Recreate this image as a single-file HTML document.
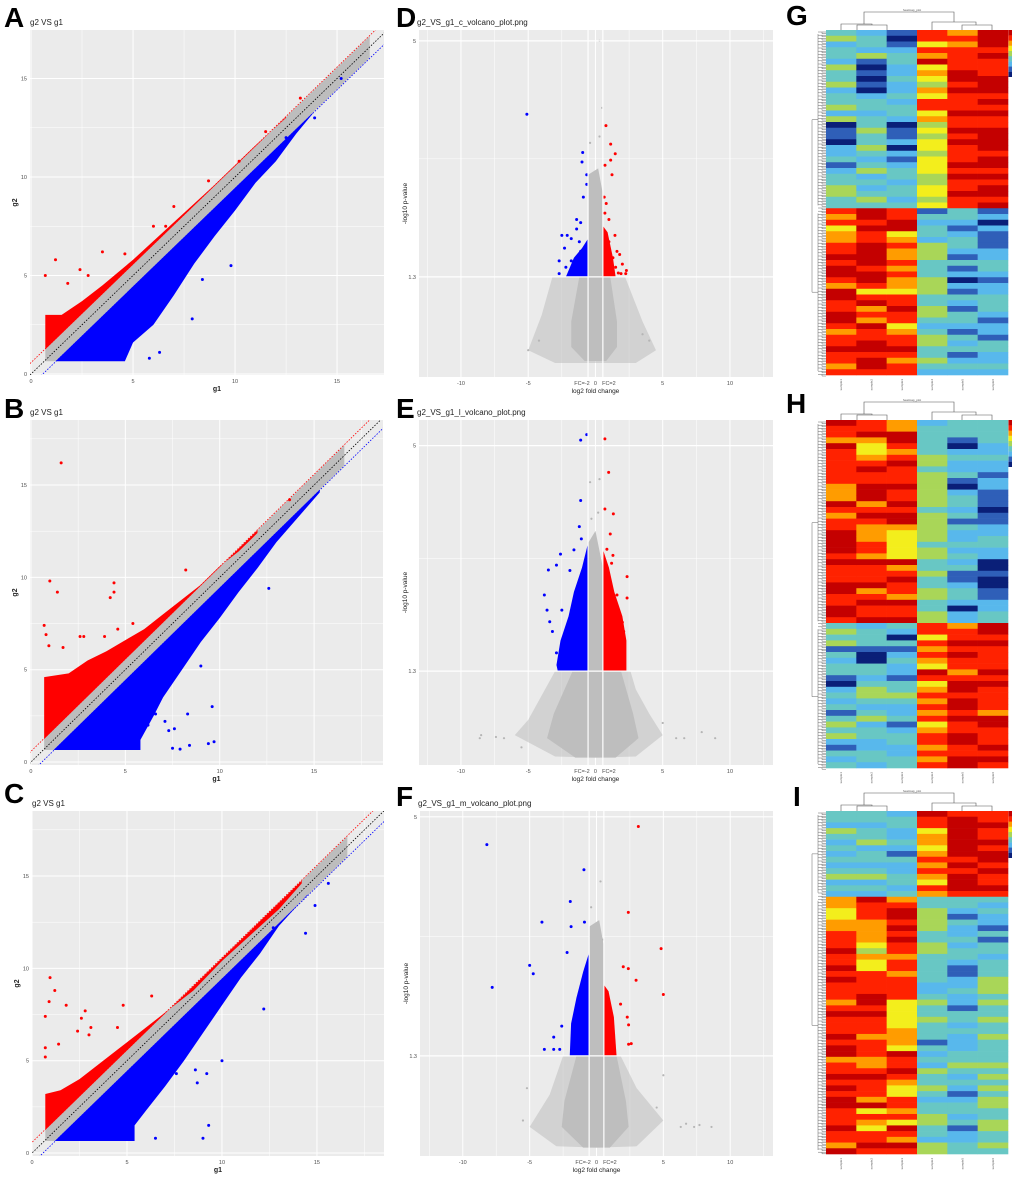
<!DOCTYPE html>
<html><head><meta charset="utf-8"><style>
html,body{margin:0;padding:0;background:#fff;}
svg{display:block;font-family:"Liberation Sans",Arial,sans-serif;}
</style></head><body>
<svg id="fig" width="1020" height="1178" viewBox="0 0 1020 1178"></svg>
<script>
// ===== Scatter data (A,B,C) =====
const scatterTicks = [0, 5, 10, 15];
const tickLabels = ["0", "5", "10", "15"];
const aRedEnvX = [0.7, 1.5, 2.5, 3.5, 5, 7, 9, 11, 12.5];
const aRedEnvY = [3.0, 3.0, 3.7, 4.5, 5.8, 7.7, 9.6, 11.6, 13.0];
const aBlueEnvX = [1.2, 4.6, 5, 6, 7, 8, 9, 10, 11, 12, 13, 13.8];
const aBlueEnvY = [0.65, 0.65, 1.6, 2.5, 4.0, 5.6, 7.0, 8.3, 9.7, 10.8, 12.2, 13.2];
const aRedPts = [[1.2,5.8],[0.7,5.0],[1.8,4.6],[2.4,5.3],[2.8,5.0],[3.5,6.2],[4.6,6.1],[6.0,7.5],[6.6,7.5],[7.0,8.5],[8.7,9.8],[10.2,10.8],[11.5,12.3],[13.2,14.0]];
const aBluePts = [[9.8,5.5],[8.4,4.8],[7.9,2.8],[5.8,0.8],[6.3,1.1],[9.2,8.0],[11.5,10.5],[12.5,12.0],[15.2,15.0],[13.9,13.0]];
const bRedEnvX = [0.7, 2, 3, 4, 5, 6, 7, 8, 9, 10, 11, 12];
const bRedEnvY = [4.6, 4.8, 5.5, 6.0, 6.6, 7.2, 8.0, 8.8, 9.6, 10.6, 11.4, 12.4];
const bBlueEnvX = [1.2, 5.8, 5.8, 6.5, 7, 8, 9, 10, 11, 12, 13, 15.3];
const bBlueEnvY = [0.65, 0.65, 1.2, 2.5, 3.5, 5.0, 6.5, 7.8, 9.2, 10.5, 11.9, 14.6];
const bRedPts = [[1.6,16.2],[1.0,9.8],[1.4,9.2],[4.4,9.7],[4.4,9.2],[4.2,8.9],[0.7,7.4],[0.8,6.9],[0.95,6.3],[1.7,6.2],[2.6,6.8],[2.8,6.8],[3.9,6.8],[4.6,7.2],[5.4,7.5],[8.2,10.4],[13.7,14.2]];
const bBluePts = [[12.6,9.4],[9.0,5.2],[9.6,3.0],[8.3,2.6],[6.6,2.6],[7.1,2.2],[7.3,1.7],[7.6,1.8],[7.5,0.75],[7.9,0.7],[8.4,0.9],[9.4,1.0],[9.7,1.1],[6.2,2.0]];
const cRedEnvX = [0.7, 1.5, 2.5, 3.5, 4.5, 5.5, 7, 8.5, 10, 11.5, 13, 14.2];
const cRedEnvY = [3.2, 3.4, 4.0, 4.8, 5.6, 6.4, 7.6, 8.8, 10.4, 11.8, 13.2, 14.6];
const cBlueEnvX = [1.2, 5.4, 5.4, 6, 7, 8, 9, 10, 11, 12, 13, 14.5];
const cBlueEnvY = [0.65, 0.65, 1.5, 2.3, 3.6, 5.0, 6.5, 8.0, 9.5, 10.8, 12.3, 14.0];
const cRedPts = [[0.95,9.5],[1.2,8.8],[0.9,8.2],[1.8,8.0],[0.7,7.4],[2.8,7.7],[2.6,7.3],[3.1,6.8],[2.4,6.6],[3.0,6.4],[4.8,8.0],[6.3,8.5],[4.5,6.8],[0.7,5.7],[1.4,5.9],[0.7,5.2]];
const cBluePts = [[12.2,7.8],[10.0,5.0],[8.6,4.5],[8.7,3.8],[9.2,4.3],[7.6,4.3],[9.3,1.5],[9.0,0.8],[6.5,0.8],[14.4,11.9],[12.7,12.2],[14.9,13.4],[15.6,14.6]];

// ===== Volcano data (D,E,F) =====
const volXTicks = [-10, -5, -1, 0, 1, 5, 10];
const volXLabels = ["-10", "-5", "FC=-2", "0", "FC=2", "5", "10"];
const volYTicks = [5, 1.3];
const volYLabels = ["5", "1.3"];
const dHalo = [[-3.2,1.3],[-4,0.7],[-5,0.15],[-3,-0.05],[0,-0.05],[3,-0.05],[4.5,0.15],[3.5,0.6],[2.2,1.3]];
const dCore = [[-1.2,1.3],[-0.6,1.3],[-0.55,2.9],[0.2,3.0],[0.55,2.6],[0.6,1.3],[1.1,1.3],[1.6,0.6],[1.6,0.2],[0.8,-0.02],[-0.8,-0.02],[-1.8,0.2],[-1.8,0.6]];
const dRedPoly = [[0.55,1.3],[0.55,2.1],[0.9,2.0],[1.3,1.6],[1.5,1.3]];
const dBluePoly = [[-0.55,1.3],[-0.55,1.9],[-1.0,1.75],[-1.6,1.6],[-2.0,1.4],[-2.2,1.3]];
const dRedPts = [[0.78,3.67],[1.13,3.38],[1.47,3.23],[1.13,3.13],[0.71,3.05],[1.23,2.9],[0.65,2.55],[0.8,2.45],[0.7,2.3],[1.0,2.2],[1.45,1.95],[1.0,1.85],[1.6,1.7],[1.8,1.65],[1.3,1.6],[2.0,1.5],[1.5,1.45],[2.3,1.4],[1.9,1.35],[2.25,1.35],[1.7,1.36]];
const dBluePts = [[-5.1,3.85],[-0.95,3.25],[-1,3.1],[-0.65,2.9],[-0.65,2.75],[-0.9,2.55],[-1.4,2.2],[-1.1,2.15],[-1.4,2.05],[-2.5,1.95],[-2.1,1.95],[-1.8,1.9],[-1.2,1.85],[-1.1,1.7],[-2.3,1.75],[-1.8,1.55],[-2.7,1.55],[-2.2,1.45],[-2.7,1.35]];
const dGrayPts = [[0.3,5.0],[0.5,3.95],[0.3,3.5],[-0.4,3.4],[-5.0,0.15],[4.0,0.3],[3.5,0.4],[-4.2,0.3]];
const eHalo = [[-3,1.3],[-4,0.9],[-5,0.5],[-6,0.25],[-3,-0.1],[0,-0.12],[3,-0.1],[5,0.25],[4,0.6],[3,1.0],[2.6,1.3]];
const eCore = [[-1.7,1.3],[-0.6,1.3],[-0.55,3.4],[0,3.6],[0.55,3.0],[0.6,1.3],[1.9,1.3],[2.8,0.6],[3.2,0.2],[1.5,-0.12],[-1.5,-0.12],[-3.6,0.2],[-3.1,0.6]];
const eRedPoly = [[0.55,1.3],[0.55,3.3],[1.0,3.0],[1.4,2.6],[2.0,2.2],[2.3,1.8],[2.3,1.3]];
const eBluePoly = [[-0.55,1.3],[-0.55,3.4],[-1.0,3.0],[-1.6,2.6],[-2.0,2.2],[-2.6,1.8],[-2.9,1.4],[-2.8,1.3]];
const eRedPts = [[0.7,5.11],[0.98,4.56],[0.7,3.96],[1.33,3.88],[1.1,3.55],[0.85,3.3],[1.3,3.2],[1.2,3.07],[2.35,2.85],[2.35,2.5],[1.6,2.55],[2.0,2.1],[2.1,1.95],[2.1,1.33]];
const eBluePts = [[-1.1,5.09],[-0.65,5.18],[-1.1,4.1],[-1.2,3.67],[-1.05,3.47],[-1.6,3.29],[-2.6,3.22],[-2.9,3.04],[-3.5,2.96],[-3.8,2.55],[-3.6,2.3],[-3.4,2.11],[-2.5,2.3],[-3.2,1.95],[-2.9,1.6],[-2.7,1.33],[-1.9,2.95]];
const eGrayPts = [[-8.6,0.2],[-8.5,0.25],[-7.4,0.22],[-6.8,0.2],[-5.5,0.05],[7.9,0.3],[8.9,0.2],[6.6,0.2],[6.0,0.2],[5,0.45],[-0.4,4.4],[0.3,4.45],[0.2,3.9],[-0.3,3.8]];
const fHalo = [[-2.5,1.3],[-3.5,0.7],[-5,0.2],[-3,-0.1],[0,-0.12],[3,-0.1],[5,0.3],[3,0.8],[1.8,1.3]];
const fCore = [[-1.5,1.3],[-0.6,1.3],[-0.55,3.3],[0.2,3.4],[0.55,3.0],[0.6,1.3],[1.5,1.3],[2.2,0.6],[2.4,0.2],[1.0,-0.12],[-1.0,-0.12],[-2.6,0.2],[-2.4,0.6]];
const fRedPoly = [[0.55,1.3],[0.55,2.4],[0.9,2.3],[1.3,1.9],[1.5,1.3]];
const fBluePoly = [[-0.55,1.3],[-0.55,2.9],[-1.0,2.6],[-1.5,2.2],[-1.9,1.8],[-2.0,1.3]];
const fRedPts = [[3.13,4.85],[2.38,3.52],[4.83,2.96],[2.96,2.47],[5.0,2.25],[2.38,2.65],[2.0,2.68],[2.3,1.9],[2.4,1.78],[2.4,1.48],[2.6,1.49],[1.8,2.1]];
const fBluePts = [[-8.2,4.57],[-7.8,2.36],[-0.94,4.18],[-1.96,3.69],[-4.08,3.37],[-1.9,3.3],[-0.9,3.37],[-5.0,2.7],[-4.73,2.57],[-2.2,2.9],[-3.9,1.4],[-3.2,1.4],[-2.75,1.4],[-3.2,1.59],[-2.6,1.76]];
const fGrayPts = [[6.3,0.2],[6.7,0.25],[7.3,0.2],[7.7,0.23],[8.6,0.2],[5.0,1.0],[4.5,0.5],[-5.5,0.3],[-5.2,0.8],[0.3,4.0],[-0.4,3.6],[0.5,3.1]];

// ===== Heatmap data (G,H,I), digit = colour level 0..8 =====
const gCols = [
 "3423324334233424011022312334433"+"76756677878876887788767787767",
 "2332410101023323343343234232343"+"88787788887887578676877887887",
 "1012332232232332011202123323323"+"77885676676766577877567787677",
 "7757685654657756454554555445545"+"13233244433344433443234433432",
 "6767777887877787787877787877877"+"33212332131202132133213231232",
 "8887877788878787788887887878878"+"12021112233212233321221332232"];
const hCols = [
 "87768777777666876778888787778877887"+"3434132331023231343421323",
 "77865567877888678766677687778678778"+"2333100332344323423322332",
 "66887678777877878865555586787768778"+"3203123221334322312332233",
 "23333344344444434444434433433443344"+"7757676587567676756776767",
 "33310232231023323132232323112332022"+"6778787767887887877887788",
 "33332232212211101122332200100112233"+"8878777787877776887778787"];
const iCols = [
 "332432323234232"+"665566777877878777678777878867787878877787768",
 "332334233234232"+"877766665465577778878777677766787776857657787",
 "233223213223323"+"678878787767767777555556665877876557767587687",
 "877566567676576"+"334444334433333223433433313232433432334433244",
 "788888887878887"+"332132232332112232213323222334323212332312233",
 "778778788787787"+"323221313323334443433433433334343434433443343"];
const heatPalette = ["#0a1f78","#2f5fb8","#58b8ec","#68c7c4","#a9d658","#f3ee1c","#ff9c00","#ff2200","#c40000"];

const svg = document.getElementById('fig');
const NSVG = svg.namespaceURI;
function mk(tag, attrs, parent) {
  const el = document.createElementNS(NSVG, tag);
  for (const k in attrs) el.setAttribute(k, attrs[k]);
  (parent || svg).appendChild(el);
  return el;
}
function lin(d0, d1, r0, r1) { return v => r0 + (v - d0) / (d1 - d0) * (r1 - r0); }
function txt(x, y, s, size, extra, parent) {
  const t = mk('text', Object.assign({x: x, y: y, 'font-size': size, fill: '#222'}, extra || {}), parent);
  t.textContent = s;
  return t;
}

function panelLetter(x, y, s) {
  const t = txt(x, y, s, 28, {'font-weight': 'bold', fill: '#000'});
  
  
}

let clipId = 0;
function makeClip(x0, y0, x1, y1) {
  clipId++;
  const cp = mk('clipPath', {id: 'cp' + clipId});
  mk('rect', {x: x0, y: y0, width: x1 - x0, height: y1 - y0}, cp);
  return 'url(#cp' + clipId + ')';
}

function drawScatter(p) {
  const X = lin(p.xd[0], p.xd[1], p.x0, p.x1), Y = lin(p.yd[0], p.yd[1], p.y1, p.y0);
  const g = mk('g', {'clip-path': makeClip(p.x0, p.y0, p.x1, p.y1)});
  
  
  const bg = mk('rect', {x: p.x0, y: p.y0, width: p.x1 - p.x0, height: p.y1 - p.y0, fill: '#ebebeb'}, g);
  
  
  for (let v = 0; v <= 20; v += 2.5) {
    const major = v % 5 === 0;
    const gl = mk('line', {x1: X(v), x2: X(v), y1: p.y0, y2: p.y1, stroke: '#fff', 'stroke-width': major ? 1 : 0.5}, g);
    
    
    const gh = mk('line', {x1: p.x0, x2: p.x1, y1: Y(v), y2: Y(v), stroke: '#fff', 'stroke-width': major ? 1 : 0.5}, g);
    
    
  }
  const off = 0.55, floor = 0.65;
  const gb = [[0.7, floor], [0.7, 0.7 + off], [16.6, 16.6 + off], [16.6, 16.6 - off], [floor + off, floor]];
  const grayBand = mk('polygon', {points: gb.map(q => X(q[0]) + ',' + Y(q[1])).join(' '), fill: '#bdbdbd'}, g);
  
  
  const rp = p.redX.map((x, i) => [x, p.redY[i]]);
  const rl = p.redX[p.redX.length - 1];
  rp.push([rl, rl + off]); rp.push([p.redX[0], p.redX[0] + off]);
  const red = mk('polygon', {points: rp.map(q => X(q[0]) + ',' + Y(q[1])).join(' '), fill: '#ff0000'}, g);
  
  
  const bl = p.blueX[p.blueX.length - 1];
  const bp = [[floor + off, floor], [bl, bl - off]];
  for (let i = p.blueX.length - 1; i >= 0; i--) bp.push([p.blueX[i], p.blueY[i]]);
  const blue = mk('polygon', {points: bp.map(q => X(q[0]) + ',' + Y(q[1])).join(' '), fill: '#0000ff'}, g);
  
  
  p.redPts.forEach(q => {
    const c = mk('circle', {cx: X(q[0]), cy: Y(q[1]), r: 1.5, fill: '#ff0000'}, g);
    
    
  });
  p.bluePts.forEach(q => {
    const c = mk('circle', {cx: X(q[0]), cy: Y(q[1]), r: 1.5, fill: '#0000ff'}, g);
    
    
  });
  [[0, '#000'], [0.58, '#ff0000'], [-0.58, '#0000ff']].forEach(d => {
    const l = mk('line', {x1: X(-1), y1: Y(-1 + d[0]), x2: X(20), y2: Y(20 + d[0]), stroke: d[1], 'stroke-width': 0.8, 'stroke-dasharray': '1.5,1.5'}, g);
    
    
  });
  scatterTicks.forEach((v, i) => {
    const tx = txt(X(v), p.y1 + 8, tickLabels[i], 5.5, {'text-anchor': 'middle', fill: '#4d4d4d'});
    
    
    const ty = txt(p.x0 - 3, Y(v) + 2, tickLabels[i], 5.5, {'text-anchor': 'end', fill: '#4d4d4d'});
    
    
  });
  const xt = txt((p.x0 + p.x1) / 2 + 10, p.y1 + 16, 'g1', 7, {'text-anchor': 'middle', 'font-weight': 'bold'});
  
  
  const yt = txt(0, 0, 'g2', 7, {'text-anchor': 'middle', 'font-weight': 'bold', transform: 'translate(' + (p.x0 - 13) + ',' + ((p.y0 + p.y1) / 2) + ') rotate(-90)'});
  
  
  const tt = txt(p.x0, p.y0 - 5, 'g2 VS g1', 8);
  
  
}

function drawVolcano(p) {
  const X = lin(p.xd[0], p.xd[1], p.x0, p.x1), Y = lin(p.yd[0], p.yd[1], p.y1, p.y0);
  const g = mk('g', {'clip-path': makeClip(p.x0, p.y0, p.x1, p.y1)});
  
  
  const bg = mk('rect', {x: p.x0, y: p.y0, width: p.x1 - p.x0, height: p.y1 - p.y0, fill: '#ebebeb'}, g);
  
  
  for (let v = -12.5; v <= 12.5; v += 2.5) {
    const major = Math.abs(v % 5) === 0;
    const gl = mk('line', {x1: X(v), x2: X(v), y1: p.y0, y2: p.y1, stroke: '#fff', 'stroke-width': major ? 1 : 0.5}, g);
    
    
  }
  const mid = (volYTicks[0] + volYTicks[1]) / 2;
  const gm = mk('line', {x1: p.x0, x2: p.x1, y1: Y(mid), y2: Y(mid), stroke: '#fff', 'stroke-width': 0.5}, g);
  
  
  const poly = (pts, fill, op, name) => {
    const e = mk('polygon', {points: pts.map(q => X(q[0]) + ',' + Y(q[1])).join(' '), fill: fill, 'fill-opacity': op}, g);
    
    
  };
  poly(p.halo, '#bdbdbd', 0.55, 'nonsignificant-halo');
  poly(p.core, '#bebebe', 1, 'nonsignificant-core');
  poly(p.redPoly, '#ff0000', 1, 'up-regulated-cluster');
  poly(p.bluePoly, '#0000ff', 1, 'down-regulated-cluster');
  p.grayPts.forEach(q => {
    const c = mk('circle', {cx: X(q[0]), cy: Y(q[1]), r: 1.1, fill: '#b5b5b5'}, g);
    
    
  });
  p.redPts.forEach(q => {
    const c = mk('circle', {cx: X(q[0]), cy: Y(q[1]), r: 1.5, fill: '#ff0000'}, g);
    
    
  });
  p.bluePts.forEach(q => {
    const c = mk('circle', {cx: X(q[0]), cy: Y(q[1]), r: 1.5, fill: '#0000ff'}, g);
    
    
  });
  volYTicks.forEach(v => {
    const h = mk('line', {x1: p.x0, x2: p.x1, y1: Y(v), y2: Y(v), stroke: '#fff', 'stroke-width': 1.2}, g);
    
    
  });
  [-0.55, 0.55].forEach(v => {
    const l = mk('line', {x1: X(v), x2: X(v), y1: p.y0, y2: p.y1, stroke: '#fff', 'stroke-width': 1.2}, g);
    
    
  });
  volXTicks.forEach((v, i) => {
    const t = txt(X(v), p.y1 + 8, volXLabels[i], 5.5, {'text-anchor': 'middle', fill: '#4d4d4d'});
    
    
  });
  volYTicks.forEach((v, i) => {
    const t = txt(p.x0 - 3, Y(v) + 2, volYLabels[i], 5.5, {'text-anchor': 'end', fill: '#4d4d4d'});
    
    
  });
  const xt = txt(X(0), p.y1 + 16, 'log2 fold change', 6.5, {'text-anchor': 'middle'});
  
  
  const yt = txt(0, 0, '-log10 p-value', 6.5, {'text-anchor': 'middle', transform: 'translate(' + (p.x0 - 12) + ',' + ((p.y0 + p.y1) / 2) + ') rotate(-90)'});
  
  
  const tt = txt(p.x0 - 2, p.y0 - 5, p.title, 8);
  
  
}

function drawHeatmap(p) {
  const x0 = 826, x1 = 1008, cw = (x1 - x0) / p.cols.length;
  p.cols.forEach((col, ci) => {
    const rh = (p.y1 - p.y0) / col.length;
    for (let r = 0; r < col.length; r++) {
      const cell = mk('rect', {x: x0 + ci * cw, y: p.y0 + r * rh, width: cw + 0.3, height: rh + 0.3, fill: heatPalette[+col[r]]});
      
      
    }
    const lab = txt(0, 0, 'sample' + (ci + 1), 3, {'text-anchor': 'end', fill: '#555', transform: 'translate(' + (x0 + ci * cw + cw / 2 + 1) + ',' + (p.y1 + 4) + ') rotate(-90)'});
    
    
  });
  heatPalette.forEach((c, i) => {
    const k = mk('rect', {x: 1008.5, y: p.y0 + (heatPalette.length - 1 - i) * 5.2, width: 3.5, height: 5.4, fill: c});
    
    
  });
  const dg = mk('g', {stroke: '#555', 'stroke-width': 0.6, fill: 'none'});
  
  
  const t = p.y0 - 18;
  const d = `M864,${p.y0 - 6} V${t} H954 V${p.y0 - 8} M841,${p.y0} V${p.y0 - 6} H872 V${p.y0 - 5} M857,${p.y0} V${p.y0 - 5} H887 V${p.y0} M932,${p.y0} V${p.y0 - 8} H976 V${p.y0 - 5} M962,${p.y0} V${p.y0 - 5} H992 V${p.y0}`;
  mk('path', {d: d}, dg);
  const tl = txt(912, t - 1, 'heatmap_plot', 3, {'text-anchor': 'middle', fill: '#555'});
  
  
  const lg = mk('g', {stroke: '#666', 'stroke-width': 0.5, fill: 'none'});
  
  
  const sy = p.y0 + (p.y1 - p.y0) * p.split;
  const a = (p.y0 + sy) / 2, b = (sy + p.y1) / 2;
  mk('path', {d: `M818,${a} H812 V${b} H818 M818,${p.y0 + 4} V${sy - 4} M818,${sy + 4} V${p.y1 - 4}`}, lg);
  for (let y = p.y0 + 2; y < p.y1; y += 3.2) {
    mk('path', {d: `M822,${y} H818 M822,${y} V${y + 1.6} H826 M822,${y} H826`}, lg);
  }
}

panelLetter(4, 27, 'A');
drawScatter({x0: 30, x1: 384, y0: 30, y1: 375, xd: [-0.05, 17.3], yd: [-0.05, 17.46], redX: aRedEnvX, redY: aRedEnvY, blueX: aBlueEnvX, blueY: aBlueEnvY, redPts: aRedPts, bluePts: aBluePts});
panelLetter(4, 418, 'B');
drawScatter({x0: 30, x1: 383, y0: 420, y1: 765, xd: [-0.05, 18.65], yd: [-0.16, 18.52], redX: bRedEnvX, redY: bRedEnvY, blueX: bBlueEnvX, blueY: bBlueEnvY, redPts: bRedPts, bluePts: bBluePts});
panelLetter(4, 803, 'C');
drawScatter({x0: 32, x1: 384, y0: 811, y1: 1156, xd: [0, 18.53], yd: [-0.16, 18.52], redX: cRedEnvX, redY: cRedEnvY, blueX: cBlueEnvX, blueY: cBlueEnvY, redPts: cRedPts, bluePts: cBluePts});

panelLetter(396, 27, 'D');
drawVolcano({title: 'g2_VS_g1_c_volcano_plot.png', x0: 419, x1: 773, y0: 30, y1: 377, xd: [-13.12, 13.2], yd: [-0.27, 5.17], halo: dHalo, core: dCore, redPoly: dRedPoly, bluePoly: dBluePoly, redPts: dRedPts, bluePts: dBluePts, grayPts: dGrayPts});
panelLetter(396, 418, 'E');
drawVolcano({title: 'g2_VS_g1_l_volcano_plot.png', x0: 419, x1: 773, y0: 420, y1: 765, xd: [-13.12, 13.2], yd: [-0.24, 5.42], halo: eHalo, core: eCore, redPoly: eRedPoly, bluePoly: eBluePoly, redPts: eRedPts, bluePts: eBluePts, grayPts: eGrayPts});
panelLetter(396, 806, 'F');
drawVolcano({title: 'g2_VS_g1_m_volcano_plot.png', x0: 420, x1: 773, y0: 811, y1: 1156, xd: [-13.2, 13.2], yd: [-0.25, 5.09], halo: fHalo, core: fCore, redPoly: fRedPoly, bluePoly: fBluePoly, redPts: fRedPts, bluePts: fBluePts, grayPts: fGrayPts});

panelLetter(786, 25, 'G');
drawHeatmap({cols: gCols, y0: 30, y1: 375, split: 0.52});
panelLetter(786, 413, 'H');
drawHeatmap({cols: hCols, y0: 420, y1: 768, split: 0.59});
panelLetter(793, 806, 'I');
drawHeatmap({cols: iCols, y0: 811, y1: 1154, split: 0.25});
</script>
</body></html>
